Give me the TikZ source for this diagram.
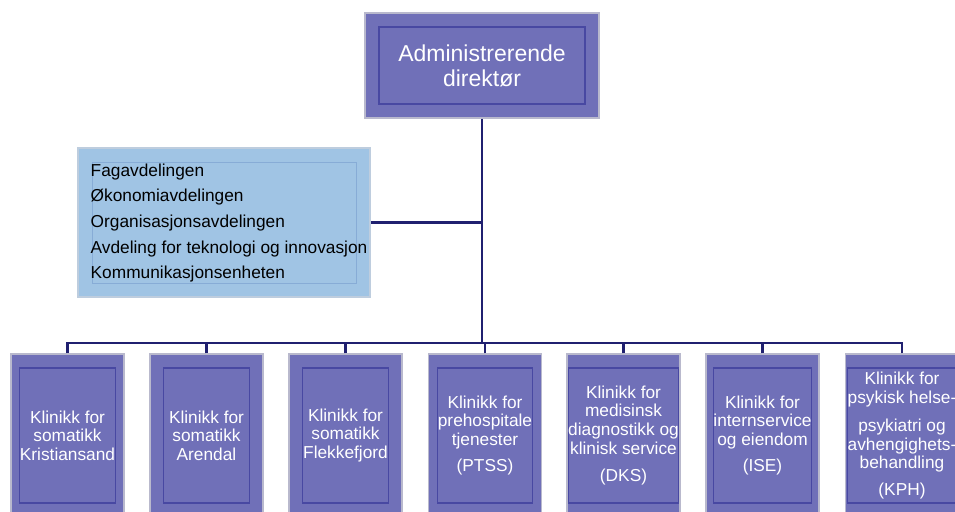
\documentclass[tikz,border=0pt]{standalone}
\usepackage{fontspec}
\setmainfont{Liberation Sans}
\definecolor{boxfill}{RGB}{112,112,184}
\definecolor{boxline}{RGB}{72,72,162}
\definecolor{boxedge}{RGB}{185,185,205}
\definecolor{connc}{RGB}{32,32,112}
\definecolor{stafffill}{RGB}{160,196,228}
\definecolor{staffline}{RGB}{135,172,214}
\definecolor{staffedge}{RGB}{190,205,222}
\tikzset{
  outerbox/.style={draw=boxedge, line width=1.5pt, fill=boxfill, inner sep=0pt},
  clinic/.style={outerbox, minimum width=113pt, minimum height=164pt},
  innerbox/.style={draw=boxline, line width=1.2pt, inner sep=0pt, text=white, align=center},
  clinicin/.style={innerbox, minimum width=86pt, minimum height=135pt, font=\fontsize{17.3}{18.6}\selectfont},
  conn/.style={draw=connc, line width=2.7pt}
}
\begin{document}
\begin{tikzpicture}[x=1pt,y=-1pt]
\useasboundingbox (0,0) rectangle (955,511);
\clip (0,0) rectangle (955,511);
% CEO
\node[outerbox, minimum width=234pt, minimum height=105pt] (ceo) at (482,65.5) {};
\node[innerbox, minimum width=206pt, minimum height=77pt, font=\fontsize{23}{25}\selectfont] (ceoin) at (482,65.5) {Administrerende\\direktør};
% staff box
\node[draw=staffedge, line width=1.5pt, fill=stafffill, minimum width=292pt, minimum height=149pt, inner sep=0pt] (staff) at (224,222.5) {};
\node[draw=staffline, line width=0.8pt, minimum width=264pt, minimum height=121pt, inner sep=0pt] (staffin) at (224,222.5) {};
\node[anchor=west, inner sep=0pt, align=left, font=\fontsize{17.3}{25.7}\selectfont] (stafftext) at (90.5,223) {Fagavdelingen\\Økonomiavdelingen\\Organisasjonsavdelingen\\Avdeling for teknologi og innovasjon\\Kommunikasjonsenheten};
% clinics
\node[clinic] (k1) at (67.5,436) {};
\node[clinicin] (k1in) at (67.5,435.5) {Klinikk for\\somatikk\\Kristiansand};
\node[clinic] (k2) at (206.5,436) {};
\node[clinicin] (k2in) at (206.5,435.5) {Klinikk for\\somatikk\\Arendal};
\node[clinic] (k3) at (345.5,436) {};
\node[clinicin] (k3in) at (345.5,435.5) {Klinikk for\\somatikk\\Flekkefjord};
\node[clinic] (k4) at (485,436) {};
\node[clinicin] (k4in) at (485,435.5) {Klinikk for\\prehospitale\\tjenester\\[8pt](PTSS)};
\node[clinic] (k5) at (623.5,436) {};
\node[clinicin] (k5in) at (623.5,435.5) {Klinikk for\\medisinsk\\diagnostikk og\\klinisk service\\[9pt](DKS)};
\node[clinic] (k6) at (762.5,436) {};
\node[clinicin] (k6in) at (762.5,435.5) {Klinikk for\\internservice\\og eiendom\\[8pt](ISE)};
\node[clinic] (k7) at (902,436) {};
\node[clinicin] (k7in) at (902,435.5) {Klinikk for\\psykisk helse-\\[10pt]psykiatri og\\avhengighets-\\behandling\\[8pt](KPH)};
% connectors
\coordinate (bus) at (483,343);
\draw[conn] (ceo.south) -- (ceo.south |- bus);
\draw[conn] (staff.east) -- (staff.east -| ceo.south);
\draw[conn, line cap=rect] (k1.north |- bus) -- (k7.north |- bus);
\foreach \k in {k1,k2,k3,k4,k5,k6,k7} {
  \draw[conn] (\k.north) -- (\k.north |- bus);
}
\end{tikzpicture}
\end{document}
